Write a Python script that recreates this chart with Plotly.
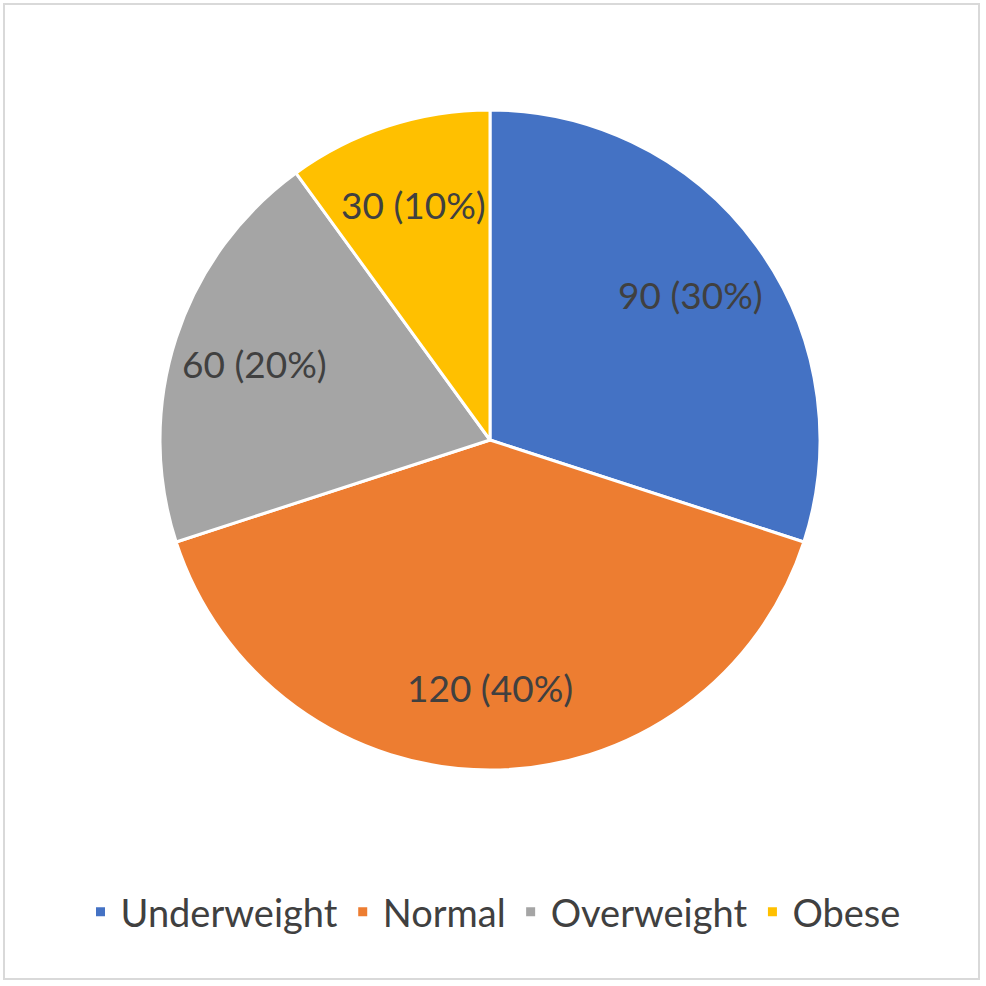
import math
import plotly.graph_objects as go

categories = ["Underweight", "Normal", "Overweight", "Obese"]
values = [90, 120, 60, 30]
colors = ["#4472C4", "#ED7D31", "#A5A5A5", "#FFC000"]

W = H = 986
cx_px, cy_px, r_px = 490, 440, 330
label_frac = 0.75

fig = go.Figure(go.Pie(
    labels=categories,
    values=values,
    sort=False,
    direction="clockwise",
    rotation=0,
    marker=dict(colors=colors, line=dict(color="white", width=3)),
    textinfo="none",
    hoverinfo="label+value+percent",
    domain=dict(x=[(cx_px - r_px) / W, (cx_px + r_px) / W],
                y=[(H - cy_px - r_px) / H, (H - cy_px + r_px) / H]),
))

# data labels placed at mid-angle of each slice
total = sum(values)
annotations = []
cum = 0
for v in values:
    mid = (cum + v / 2) / total * 2 * math.pi
    cum += v
    x_px = cx_px + label_frac * r_px * math.sin(mid)
    y_px = cy_px - label_frac * r_px * math.cos(mid)
    annotations.append(dict(
        x=x_px / W, y=(H - y_px) / H, xref="paper", yref="paper",
        text=f"{v} ({round(v / total * 100)}%)", showarrow=False,
        xanchor="center", yanchor="middle",
        font=dict(family="Lato", size=37, color="#404040"),
    ))

fig.update_layout(
    width=W, height=H,
    margin=dict(l=0, r=0, t=0, b=0),
    paper_bgcolor="white",
    plot_bgcolor="white",
    showlegend=True,
    legend=dict(
        orientation="h",
        x=0.5, xanchor="center",
        y=(H - 912) / H, yanchor="middle",
        font=dict(family="Lato", size=38, color="#404040"),
    ),
    annotations=annotations,
    shapes=[dict(
        type="rect", xref="paper", yref="paper",
        x0=4 / W, x1=979 / W, y0=(H - 979) / H, y1=(H - 4) / H,
        line=dict(color="#D9D9D9", width=2),
    )],
)

fig.write_html(
    "out.html",
    config={"displayModeBar": False},
    post_script="document.body.style.margin='0';document.body.style.overflow='hidden';",
)
